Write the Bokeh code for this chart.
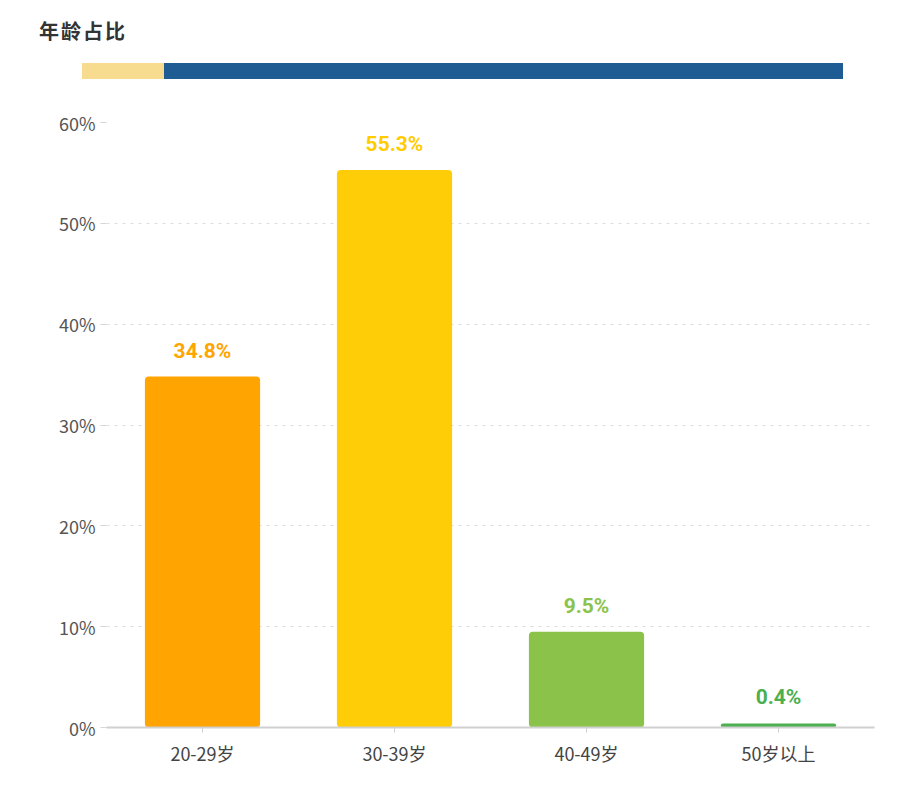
from bokeh.plotting import figure
from bokeh.models import ColumnDataSource, Range1d, FactorRange, Div, FixedTicker, CustomJSTickFormatter
from bokeh.layouts import column
from bokeh.core.properties import value
from bokeh.embed import file_html
from bokeh.resources import INLINE

categories = ["20-29岁", "30-39岁", "40-49岁", "50岁以上"]
shares = [34.8, 55.3, 9.5, 0.4]
bar_colors = ["#FFA400", "#FFCD08", "#8BC34A", "#4CAF50"]
label_colors = ["#FFA500", "#FFCC00", "#8BC34A", "#4CAF50"]
y_ticks = [0, 10, 20, 30, 40, 50, 60]
title_text = "年龄占比"

labels = [f"{v}%" for v in shares]
src = ColumnDataSource(dict(cat=categories, val=shares, color=bar_colors,
                            lcolor=label_colors, label=labels))

header = Div(width=913, height=95, margin=0, text=(
    '<div style="position:relative;width:913px;height:95px;">'
    '<div style="position:absolute;left:39px;top:18px;font-family:\'Noto Sans CJK SC\';'
    'font-weight:bold;font-size:20px;line-height:26px;color:#333;letter-spacing:2px;">' + title_text + '</div>'
    '<div style="position:absolute;left:82px;top:63px;width:82px;height:16px;background:#F7DC8F;"></div>'
    '<div style="position:absolute;left:164px;top:63px;width:679px;height:16px;background:#1F5C94;"></div>'
    '</div>'))

p = figure(width=913, height=691, output_backend="svg", toolbar_location=None,
           x_range=FactorRange(*categories, range_padding=0),
           y_range=Range1d(0, 60),
           min_border_left=106, min_border_right=39, min_border_top=27, min_border_bottom=59,
           outline_line_color=None)
p.margin = 0

p.vbar(x="cat", top="val", width=0.6, fill_color="color", line_color=None, source=src,
       border_radius=4)
p.text(x="cat", y="val", text="label", source=src, text_color="lcolor",
       text_align="center", text_baseline="bottom", y_offset=-14,
       text_font=value("Roboto"), text_font_style="bold", text_font_size="21px")

p.yaxis.ticker = FixedTicker(ticks=y_ticks)
p.yaxis.formatter = CustomJSTickFormatter(code="return tick + '%';")
p.yaxis.axis_line_color = None
p.yaxis.major_tick_in = 0
p.yaxis.major_tick_out = 6
p.yaxis.major_tick_line_color = "#d6d6d6"
p.yaxis.minor_tick_line_color = None
p.yaxis.major_label_standoff = 5
p.yaxis.major_label_text_font = "Noto Sans CJK SC"
p.yaxis.major_label_text_font_size = "18px"
p.yaxis.major_label_text_color = "#555555"

p.xaxis.axis_line_color = "#d0d0d0"
p.xaxis.axis_line_width = 2
p.xaxis.major_tick_in = 0
p.xaxis.major_tick_out = 5
p.xaxis.major_tick_line_color = "#d0d0d0"
p.xaxis.major_label_standoff = 7
p.xaxis.major_label_text_font = "Noto Sans CJK SC"
p.xaxis.major_label_text_font_size = "18px"
p.xaxis.major_label_text_color = "#444444"

p.xgrid.grid_line_color = None
p.ygrid.grid_line_color = "#dddddd"
p.ygrid.grid_line_dash = "3 5"
p.ygrid.grid_line_width = 1

layout = column(header, p, spacing=0)
open("out.html", "w").write(file_html(layout, INLINE))
